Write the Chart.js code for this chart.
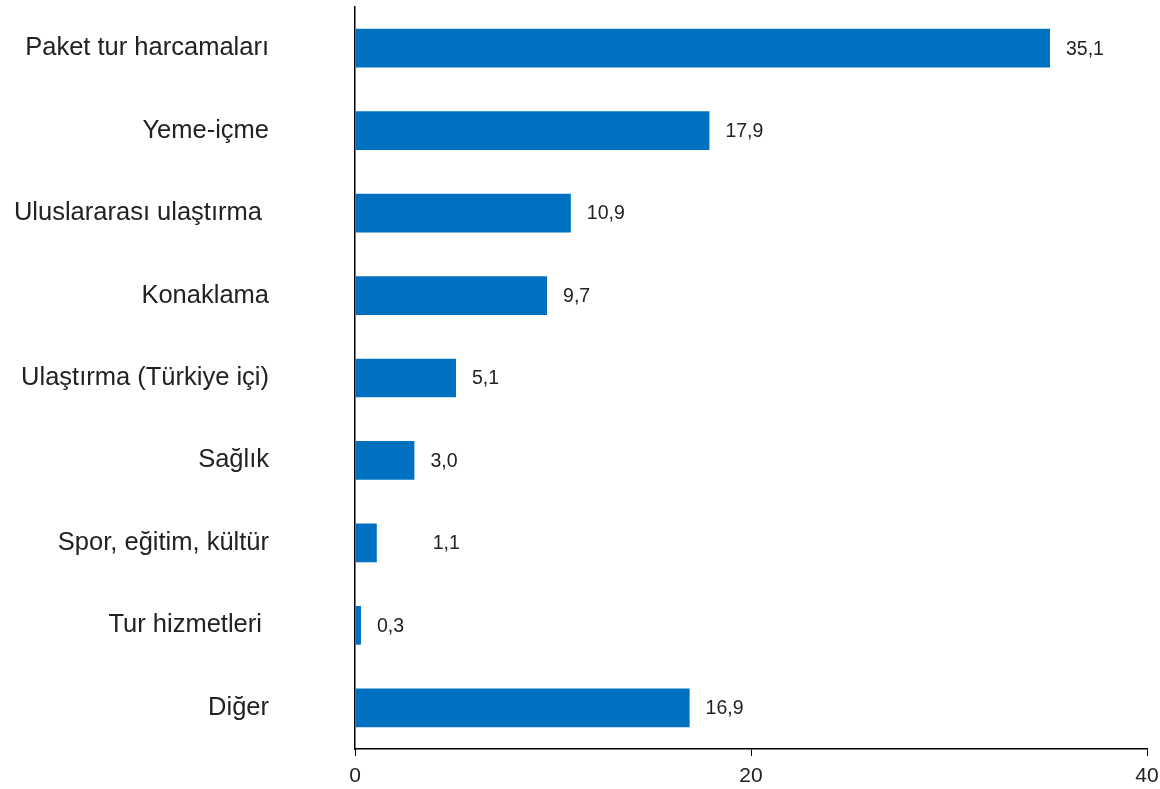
<!DOCTYPE html>
<html>
<head>
<meta charset="utf-8">
<script src="https://cdn.jsdelivr.net/npm/chart.js@4/dist/chart.umd.min.js"></script>
<style>
  html, body { margin: 0; padding: 0; background: #fff; }
  #wrap { width: 1160px; height: 789px; }
</style>
</head>
<body>
<div id="wrap"><canvas id="chart"></canvas></div>
<script>
const categories = [
  'Paket tur harcamaları',
  'Yeme-içme',
  'Uluslararası ulaştırma ',
  'Konaklama',
  'Ulaştırma (Türkiye içi)',
  'Sağlık',
  'Spor, eğitim, kültür',
  'Tur hizmetleri ',
  'Diğer'
]
const shares = [35.1, 17.9, 10.9, 9.7, 5.1, 3.0, 1.1, 0.3, 16.9]
const xTicks = [0, 20, 40]

const barColor = '#0070c0'
const textColor = '#222'
const fontFamily = '"Liberation Sans", Arial, sans-serif'

// the 1,1 label sits further right in the original
const extraShift = { 6: 40 }

const valueLabels = {
  id: 'valueLabels',
  afterDatasetsDraw(chart) {
    const ctx = chart.ctx
    const meta = chart.getDatasetMeta(0)
    ctx.save()
    ctx.font = '19.5px ' + fontFamily
    ctx.fillStyle = textColor
    ctx.textAlign = 'left'
    ctx.textBaseline = 'middle'
    meta.data.forEach((bar, i) => {
      const txt = shares[i].toFixed(1).replace('.', ',')
      ctx.fillText(txt, bar.x + 16 + (extraShift[i] || 0), bar.y + 1)
    })
    ctx.restore()
  }
}

new Chart(document.getElementById('chart'), {
  type: 'bar',
  data: {
    labels: categories,
    datasets: [{
      data: shares,
      backgroundColor: barColor,
      borderWidth: 0,
      categoryPercentage: 1,
      barPercentage: 0.47
    }]
  },
  options: {
    indexAxis: 'y',
    responsive: true,
    maintainAspectRatio: false,
    animation: false,
    layout: { padding: { top: 7, right: 13, left: 0, bottom: 0 } },
    plugins: {
      legend: { display: false },
      tooltip: { enabled: false }
    },
    scales: {
      x: {
        min: 0,
        max: 40,
        afterBuildTicks: axis => { axis.ticks = xTicks.map(v => ({ value: v })) },
        afterFit: axis => {
          axis.height = 40
          axis.paddingLeft = 0
          axis.paddingRight = 0
        },
        grid: {
          drawOnChartArea: false,
          drawTicks: true,
          tickLength: 7,
          color: '#000',
          tickColor: '#000'
        },
        border: { display: true, color: '#000', width: 1.5 },
        ticks: {
          padding: 8,
          color: textColor,
          font: { family: fontFamily, size: 21 },
          maxRotation: 0
        }
      },
      y: {
        // ticks.padding also pads the top/bottom of a vertical axis, undo that
        afterFit: axis => {
          axis.width = 355
          axis.paddingTop = 0
          axis.paddingBottom = 0
        },
        grid: { drawOnChartArea: false, drawTicks: false },
        border: { display: true, color: '#000', width: 1.5 },
        ticks: {
          padding: 86,
          color: textColor,
          font: { family: fontFamily, size: 25.5 },
          autoSkip: false
        }
      }
    }
  },
  plugins: [valueLabels]
})
</script>
</body>
</html>
